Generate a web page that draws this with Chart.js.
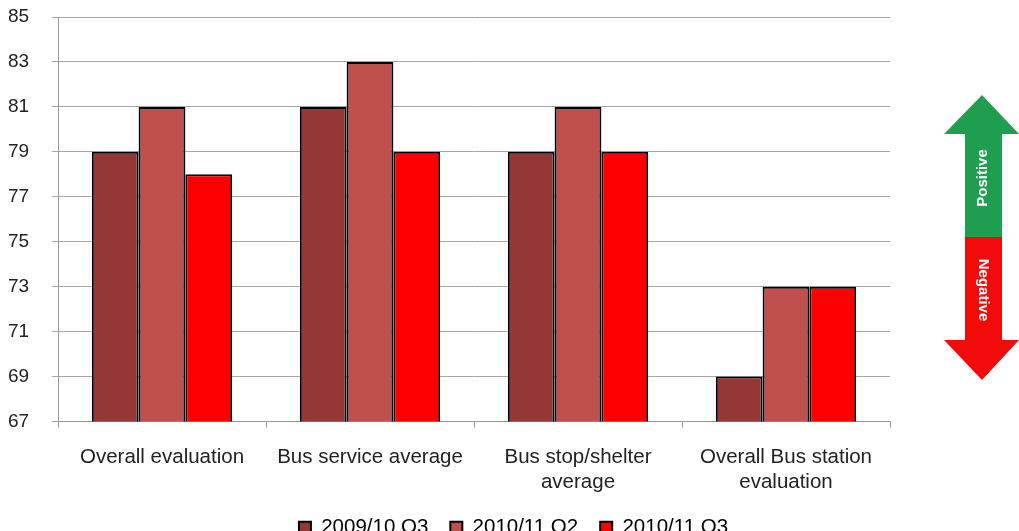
<!DOCTYPE html>
<html>
<head>
<meta charset="utf-8">
<script src="https://cdn.jsdelivr.net/npm/chart.js@4"></script>
<style>
html,body{margin:0;padding:0;background:#fff;overflow:hidden;}
#wrap{position:relative;width:1019px;height:548px;}
</style>
</head>
<body>
<div id="wrap"><canvas id="c"></canvas></div>
<script>
const categories = [["Overall evaluation"], ["Bus service average"], ["Bus stop/shelter", "average"], ["Overall Bus station", "evaluation"]];
const seriesNames = ["2009/10 Q3", "2010/11 Q2", "2010/11 Q3"];
const s2009Q3 = [79, 81, 79, 69];
const s2010Q2 = [81, 83, 81, 73];
const s2010Q3 = [78, 79, 79, 73];
const seriesColors = ["#953735", "#C0504D", "#FF0000"];
const yMin = 67, yMax = 85, yStep = 2;

const FONT = "'Liberation Sans', Arial, sans-serif";

const arrowPlugin = {
  id: 'arrow',
  afterDraw(chart) {
    const ctx = chart.ctx;
    const cx = 982, sl = 965, sr = 1002, hl = 944, hr = 1019;
    const topTip = 95, topBase = 134, mid = 237, botBase = 340, botTip = 380;
    ctx.save();
    ctx.fillStyle = '#1E9E4E';
    ctx.beginPath();
    ctx.moveTo(cx, topTip);
    ctx.lineTo(hr, topBase);
    ctx.lineTo(sr, topBase);
    ctx.lineTo(sr, mid);
    ctx.lineTo(sl, mid);
    ctx.lineTo(sl, topBase);
    ctx.lineTo(hl, topBase);
    ctx.closePath();
    ctx.fill();
    ctx.fillStyle = '#F20B0B';
    ctx.beginPath();
    ctx.moveTo(sl, mid);
    ctx.lineTo(sr, mid);
    ctx.lineTo(sr, botBase);
    ctx.lineTo(hr, botBase);
    ctx.lineTo(cx, botTip);
    ctx.lineTo(hl, botBase);
    ctx.lineTo(sl, botBase);
    ctx.closePath();
    ctx.fill();
    ctx.fillStyle = '#ffffff';
    ctx.font = "bold 15px " + FONT;
    ctx.textAlign = 'center';
    ctx.textBaseline = 'middle';
    ctx.save();
    ctx.translate(cx + 1, 178);
    ctx.rotate(-Math.PI / 2);
    ctx.fillText('Positive', 0, 0);
    ctx.restore();
    ctx.save();
    ctx.translate(cx + 1, 290);
    ctx.rotate(Math.PI / 2);
    ctx.fillText('Negative', 0, 0);
    ctx.restore();
    ctx.restore();
  }
};

const data = {
  labels: categories,
  datasets: [s2009Q3, s2010Q2, s2010Q3].map((vals, i) => ({
    label: seriesNames[i],
    data: vals,
    backgroundColor: seriesColors[i],
    borderColor: '#000000',
    borderWidth: 2,
    borderSkipped: false,
    categoryPercentage: 0.675,
    barPercentage: 1.0
  }))
};

new Chart(document.getElementById('c'), {
  type: 'bar',
  data: data,
  plugins: [arrowPlugin],
  options: {
    responsive: true,
    maintainAspectRatio: false,
    animation: false,
    layout: { padding: { left: 8, right: 0, top: 17, bottom: 0 } },
    plugins: {
      tooltip: { enabled: false },
      legend: {
        position: 'bottom',
        labels: {
          font: { family: FONT, size: 20.5 },
          color: '#222',
          boxWidth: 12,
          boxHeight: 12,
          padding: 22,
          generateLabels(chart) {
            return chart.data.datasets.map((d, i) => ({
              text: d.label,
              fillStyle: d.backgroundColor,
              strokeStyle: '#000',
              lineWidth: 2,
              datasetIndex: i,
              hidden: false
            }));
          }
        }
      }
    },
    scales: {
      x: {
        offset: true,
        grid: { offset: true, drawOnChartArea: false, drawTicks: true, tickLength: 6, color: '#999' },
        border: { color: '#999', width: 1 },
        ticks: { font: { family: FONT, size: 20.5, lineHeight: 1.2 }, color: '#222', padding: 18, maxRotation: 0, autoSkip: false },
        afterFit(scale) { scale.height = 74; }
      },
      y: {
        min: yMin, max: yMax,
        grid: { color: '#a6a6a6', tickLength: 6, lineWidth: 1 },
        border: { color: '#999', width: 1 },
        ticks: { stepSize: yStep, font: { family: FONT, size: 19 }, color: '#222', padding: 0, crossAlign: 'far' },
        afterFit(scale) { scale.width = 50; }
      },
      yRight: {
        position: 'right',
        min: yMin, max: yMax,
        grid: { display: false, drawTicks: false },
        border: { display: false },
        ticks: { display: false },
        afterFit(scale) { scale.width = 129; }
      }
    }
  }
});
</script>
</body>
</html>
